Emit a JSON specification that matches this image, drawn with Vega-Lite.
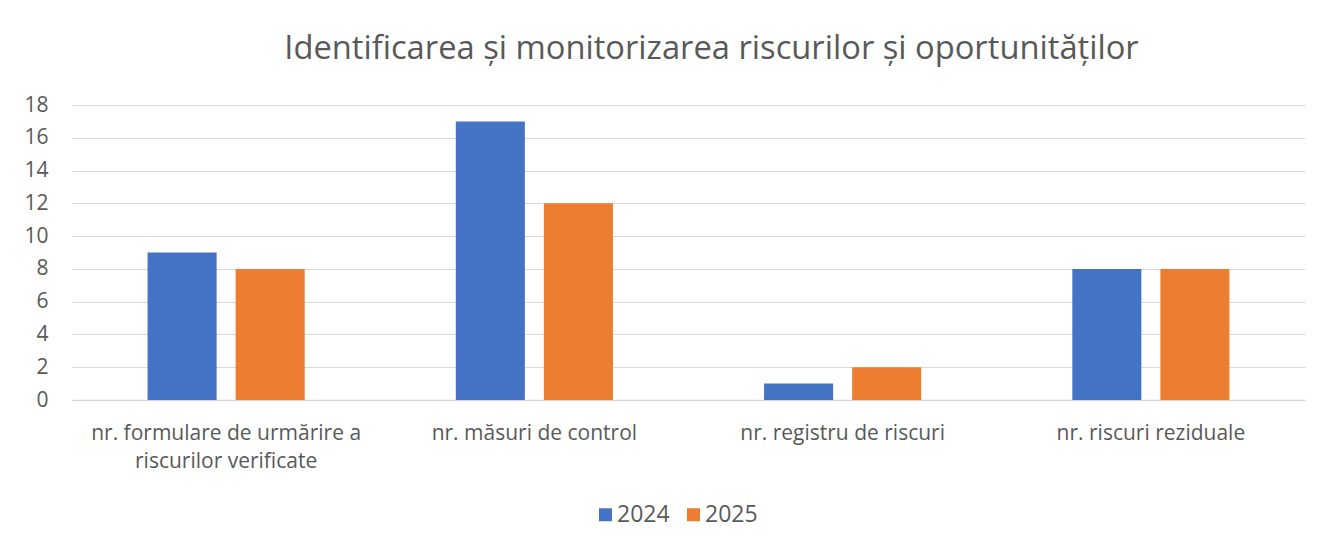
{
  "$schema": "https://vega.github.io/schema/vega-lite/v6.json",
  "width": 1233,
  "height": 295,
  "autosize": {"type": "none"},
  "padding": {"left": 72, "top": 105, "right": 30, "bottom": 148},
  "background": "white",
  "title": {
    "text": "Identificarea și monitorizarea riscurilor și oportunităților",
    "anchor": "middle",
    "dx": 23,
    "offset": 28,
    "font": "Open Sans",
    "fontSize": 32.7,
    "fontWeight": "normal",
    "color": "#595959"
  },
  "data": {
    "values": [
      {"categorie": "nr. formulare de urmărire a\nriscurilor verificate", "an": "2024", "valoare": 9},
      {"categorie": "nr. formulare de urmărire a\nriscurilor verificate", "an": "2025", "valoare": 8},
      {"categorie": "nr. măsuri de control", "an": "2024", "valoare": 17},
      {"categorie": "nr. măsuri de control", "an": "2025", "valoare": 12},
      {"categorie": "nr. registru de riscuri", "an": "2024", "valoare": 1},
      {"categorie": "nr. registru de riscuri", "an": "2025", "valoare": 2},
      {"categorie": "nr. riscuri reziduale", "an": "2024", "valoare": 8},
      {"categorie": "nr. riscuri reziduale", "an": "2025", "valoare": 8}
    ]
  },
  "mark": {"type": "bar"},
  "encoding": {
    "x": {
      "field": "categorie",
      "type": "nominal",
      "sort": null,
      "title": null,
      "scale": {"paddingInner": 0, "paddingOuter": 0},
      "axis": {
        "labelAngle": 0,
        "labelExpr": "split(datum.label, '\\n')",
        "labelLimit": 0,
        "labelFont": "Open Sans",
        "labelFontSize": 21,
        "labelColor": "#595959",
        "labelLineHeight": 28,
        "labelPadding": 33,
        "labelBaseline": "middle",
        "ticks": false,
        "domainColor": "#D9D9D9",
        "domainWidth": 1.5,
        "grid": false
      }
    },
    "xOffset": {
      "field": "an",
      "type": "nominal",
      "scale": {"paddingInner": 0.216, "paddingOuter": 0.858}
    },
    "y": {
      "field": "valoare",
      "type": "quantitative",
      "title": null,
      "scale": {"domain": [0, 18]},
      "axis": {
        "values": [0, 2, 4, 6, 8, 10, 12, 14, 16, 18],
        "labelFont": "Open Sans",
        "labelFontSize": 21,
        "labelColor": "#595959",
        "labelPadding": 24,
        "ticks": false,
        "domain": false,
        "gridColor": "#D9D9D9",
        "gridWidth": 1
      }
    },
    "color": {
      "field": "an",
      "type": "nominal",
      "title": null,
      "scale": {"domain": ["2024", "2025"], "range": ["#4472C4", "#ED7D31"]},
      "legend": {
        "orient": "none",
        "legendX": 522,
        "legendY": 398,
        "direction": "horizontal",
        "symbolType": "square",
        "symbolSize": 169,
        "symbolStrokeWidth": 0,
        "labelFont": "Open Sans",
        "labelFontSize": 23,
        "labelColor": "#595959",
        "columnPadding": 12,
        "labelOffset": 0
      }
    }
  },
  "config": {"view": {"stroke": null}}
}
